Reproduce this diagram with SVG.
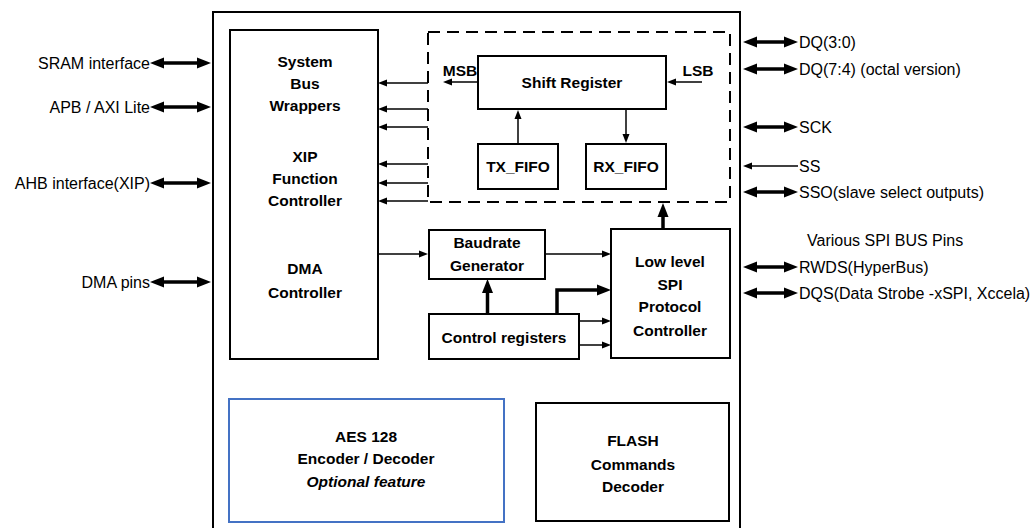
<svg xmlns="http://www.w3.org/2000/svg" width="1033" height="528" viewBox="0 0 1033 528">
<style>
.box{fill:#fff;stroke:#000;stroke-width:2}
.t{font-family:"Liberation Sans",Arial,sans-serif;font-size:16px;fill:#000}
.b{font-family:"Liberation Sans",Arial,sans-serif;font-size:15.5px;font-weight:bold;fill:#000;text-anchor:middle}
.thin{stroke:#000;stroke-width:1.5;fill:none;marker-end:url(#ah)}
.thick{stroke:#000;stroke-width:3.5;fill:none;marker-end:url(#AH)}
.dbl{stroke:#000;stroke-width:3.5;fill:none;marker-end:url(#AH);marker-start:url(#AH)}
</style>
<defs>
<marker id="AH" markerUnits="userSpaceOnUse" markerWidth="14" markerHeight="12" refX="4" refY="6" orient="auto-start-reverse"><path d="M0,0.5 L14,6 L0,11.5 z" fill="#000"/></marker>
<marker id="ah" markerUnits="userSpaceOnUse" markerWidth="9" markerHeight="8" refX="2" refY="4" orient="auto-start-reverse"><path d="M0,0.5 L9,4 L0,7.5 z" fill="#000"/></marker>
</defs>

<g id="outer"><path d="M213,530 V12 H740 V530" fill="none" stroke="#000" stroke-width="2"/></g>

<g id="bus-wrappers">
<rect class="box" x="230" y="30" width="148" height="329"/>
<text class="b" x="305" y="67">System</text>
<text class="b" x="305" y="89">Bus</text>
<text class="b" x="305" y="111">Wrappers</text>
<text class="b" x="305" y="162">XIP</text>
<text class="b" x="305" y="184">Function</text>
<text class="b" x="305" y="206">Controller</text>
<text class="b" x="305" y="274">DMA</text>
<text class="b" x="305" y="298">Controller</text>
</g>

<g id="spi-core"><rect x="428" y="32" width="302" height="170" fill="none" stroke="#000" stroke-width="2" stroke-dasharray="12,7"/></g>

<g id="shift-register">
<rect class="box" x="478" y="56" width="188" height="53"/>
<text class="b" x="572" y="88">Shift Register</text>
<text class="b" x="460" y="76">MSB</text>
<text class="b" x="698" y="76">LSB</text>
</g>

<g id="tx-fifo"><rect class="box" x="478" y="144" width="80" height="45"/><text class="b" x="518" y="172">TX_FIFO</text></g>
<g id="rx-fifo"><rect class="box" x="586" y="144" width="80" height="45"/><text class="b" x="626" y="172">RX_FIFO</text></g>

<g id="baudrate"><rect class="box" x="429" y="230" width="116" height="49"/><text class="b" x="487" y="248">Baudrate</text><text class="b" x="487" y="271">Generator</text></g>

<g id="control-registers"><rect class="box" x="429" y="314" width="150" height="45"/><text class="b" x="504" y="343">Control registers</text></g>

<g id="low-level-spi">
<rect class="box" x="611" y="229" width="119" height="129"/>
<text class="b" x="670" y="267">Low level</text>
<text class="b" x="670" y="290">SPI</text>
<text class="b" x="670" y="312">Protocol</text>
<text class="b" x="670" y="336">Controller</text>
</g>

<g id="aes">
<rect x="229" y="399" width="275" height="123" fill="#fff" stroke="#4472C4" stroke-width="2"/>
<text class="b" x="366" y="442">AES 128</text>
<text class="b" x="366" y="464">Encoder / Decoder</text>
<text class="b" x="366" y="487" font-style="italic">Optional feature</text>
</g>

<g id="flash-decoder">
<rect class="box" x="536" y="403" width="193" height="118"/>
<text class="b" x="633" y="446">FLASH</text>
<text class="b" x="633" y="470">Commands</text>
<text class="b" x="633" y="492">Decoder</text>
</g>

<g id="labels">
<text class="t" x="150" y="69" text-anchor="end">SRAM interface</text>
<text class="t" x="150" y="113" text-anchor="end">APB / AXI Lite</text>
<text class="t" x="150" y="189" text-anchor="end">AHB interface(XIP)</text>
<text class="t" x="150" y="288" text-anchor="end">DMA pins</text>
<text class="t" x="799" y="48">DQ(3:0)</text>
<text class="t" x="799" y="75">DQ(7:4) (octal version)</text>
<text class="t" x="799" y="133">SCK</text>
<text class="t" x="799" y="172">SS</text>
<text class="t" x="799" y="198">SSO(slave select outputs)</text>
<text class="t" x="807" y="246">Various SPI BUS Pins</text>
<text class="t" x="799" y="273">RWDS(HyperBus)</text>
<text class="t" x="799" y="299">DQS(Data Strobe -xSPI, Xccela)</text>
</g>

<g id="connectors">
<line class="dbl" x1="160" y1="63" x2="201" y2="63"/>
<line class="dbl" x1="160" y1="107" x2="201" y2="107"/>
<line class="dbl" x1="160" y1="183" x2="201" y2="183"/>
<line class="dbl" x1="160" y1="282" x2="201" y2="282"/>

<line class="dbl" x1="753" y1="42" x2="788" y2="42"/>
<line class="dbl" x1="753" y1="69" x2="788" y2="69"/>
<line class="dbl" x1="753" y1="127" x2="788" y2="127"/>
<line class="thin" x1="798" y1="166" x2="750" y2="166"/>
<line class="dbl" x1="753" y1="192" x2="788" y2="192"/>
<line class="dbl" x1="753" y1="267" x2="788" y2="267"/>
<line class="dbl" x1="753" y1="293" x2="788" y2="293"/>

<line class="thin" x1="428" y1="83" x2="385" y2="83"/>
<line class="thin" x1="428" y1="109" x2="385" y2="109"/>
<line class="thin" x1="428" y1="127" x2="385" y2="127"/>
<line class="thin" x1="428" y1="164" x2="385" y2="164"/>
<line class="thin" x1="428" y1="183" x2="385" y2="183"/>
<line class="thin" x1="428" y1="201" x2="385" y2="201"/>

<line class="thin" x1="478" y1="82" x2="450" y2="82"/>
<line class="thin" x1="702" y1="82" x2="674" y2="82"/>
<line class="thin" x1="518" y1="144" x2="518" y2="117"/>
<line class="thin" x1="626" y1="109" x2="626" y2="136"/>

<line class="thin" x1="378" y1="254" x2="421" y2="254"/>
<line class="thin" x1="545" y1="254" x2="604" y2="254"/>
<line class="thin" x1="579" y1="321" x2="604" y2="321"/>
<line class="thin" x1="579" y1="345" x2="604" y2="345"/>

<line class="thick" x1="487.5" y1="314" x2="487.5" y2="289"/>
<path class="thick" d="M557,314 V290 H601"/>
<line class="thick" x1="663" y1="229" x2="663" y2="213"/>
</g>
</svg>
